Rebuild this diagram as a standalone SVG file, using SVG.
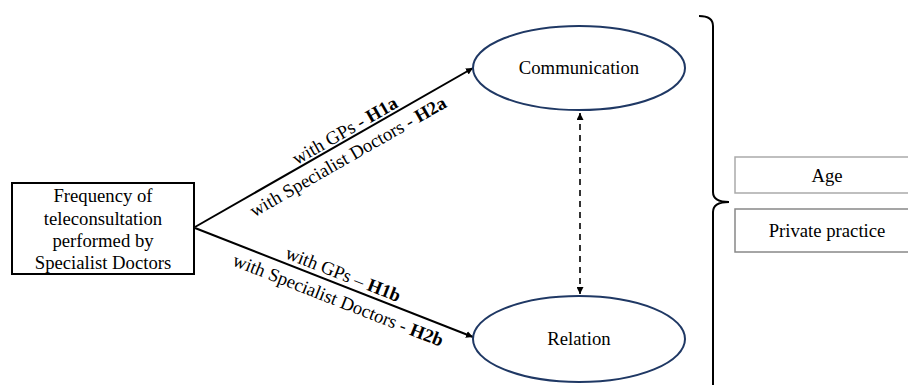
<svg xmlns="http://www.w3.org/2000/svg" width="908" height="385" viewBox="0 0 908 385" font-family="'Liberation Serif', serif">
<style>
text{font-family:'Liberation Serif',serif;font-size:18.7px;fill:#000}
.lbl{text-anchor:middle}
.ell{fill:#fff;stroke:#1f3864;stroke-width:2}
.conn{stroke:#000;stroke-width:2;fill:none}
.dash{stroke:#000;stroke-width:1.6;fill:none;stroke-dasharray:6,5}
</style>
<defs>
<marker id="ah" viewBox="0 0 10 10" refX="10" refY="5" markerWidth="7" markerHeight="7" markerUnits="userSpaceOnUse" orient="auto-start-reverse">
<path d="M0,0 L10,5 L0,10 z" fill="#000"/>
</marker>
</defs>
<rect width="908" height="385" fill="#fff"/>
<g id="connectors">
<line class="conn" x1="195" y1="227" x2="473" y2="68" marker-end="url(#ah)"/>
<line class="conn" x1="195" y1="228" x2="473" y2="337" marker-end="url(#ah)"/>
<line class="dash" x1="580" y1="113" x2="580" y2="294" marker-start="url(#ah)" marker-end="url(#ah)"/>
<path d="M699 16 Q713 16 713 26 L713 192 Q713 202 729 202 Q713 202 713 212 L713 390" fill="none" stroke="#000" stroke-width="2"/>
<text class="lbl" transform="translate(348,136) rotate(-29.8)">with GPs - <tspan font-weight="bold">H1a</tspan></text>
<text class="lbl" transform="translate(351,162) rotate(-29.8)">with Specialist Doctors - <tspan font-weight="bold">H2a</tspan></text>
<text class="lbl" transform="translate(341,280) rotate(21.4)">with GPs – <tspan font-weight="bold">H1b</tspan></text>
<text class="lbl" transform="translate(336,306) rotate(21.4)">with Specialist Doctors - <tspan font-weight="bold">H2b</tspan></text>
</g>
<g id="frequency">
<rect x="12" y="183" width="182" height="91" fill="#fff" stroke="#000" stroke-width="2"/>
<text class="lbl" x="103" y="202">Frequency of</text>
<text class="lbl" x="103" y="225">teleconsultation</text>
<text class="lbl" x="103" y="247">performed by</text>
<text class="lbl" x="103" y="269">Specialist Doctors</text>
</g>
<g id="communication">
<ellipse class="ell" cx="579" cy="68" rx="106" ry="42"/>
<text class="lbl" x="579" y="74">Communication</text>
</g>
<g id="relation">
<ellipse class="ell" cx="579" cy="339" rx="106" ry="43"/>
<text class="lbl" x="579" y="345">Relation</text>
</g>
<g id="age">
<rect x="735" y="157" width="183" height="36" fill="#fff" stroke="#aaa" stroke-width="1.5"/>
<text class="lbl" x="827" y="182">Age</text>
</g>
<g id="private-practice">
<rect x="735" y="209" width="183" height="43" fill="#fff" stroke="#888" stroke-width="1.5"/>
<text class="lbl" x="827" y="237">Private practice</text>
</g>
</svg>
